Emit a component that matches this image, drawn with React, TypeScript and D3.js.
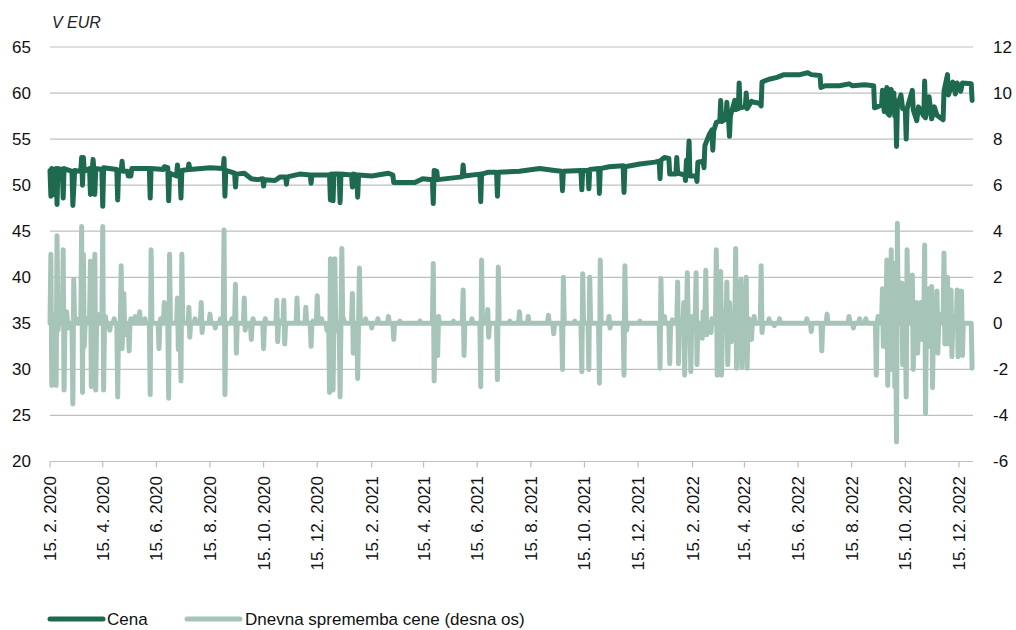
import * as d3 from 'd3';
import React from 'react';

// price (left axis, EUR)
const cena2020: [string, number][] = [
    ['2020-02-15', 51.6], ['2020-02-16', 48.8], ['2020-02-17', 51.8], ['2020-02-18', 51.7], ['2020-02-19', 49.0],
    ['2020-02-20', 51.7], ['2020-02-22', 51.8], ['2020-02-23', 47.9], ['2020-02-24', 51.8], ['2020-02-29', 51.7],
    ['2020-03-01', 48.6], ['2020-03-02', 51.8], ['2020-03-11', 51.5], ['2020-03-12', 47.8], ['2020-03-13', 49.6],
    ['2020-03-14', 51.6], ['2020-03-21', 51.5], ['2020-03-22', 53.0], ['2020-03-23', 50.0], ['2020-03-24', 53.0],
    ['2020-03-25', 51.5], ['2020-03-31', 51.8], ['2020-04-01', 49.0], ['2020-04-02', 51.7], ['2020-04-03', 51.6],
    ['2020-04-04', 52.8], ['2020-04-05', 51.6], ['2020-04-06', 49.0], ['2020-04-07', 51.8], ['2020-04-14', 51.7],
    ['2020-04-15', 47.7], ['2020-04-16', 51.9], ['2020-05-01', 51.7], ['2020-05-02', 48.4], ['2020-05-03', 51.6],
    ['2020-05-06', 51.6], ['2020-05-07', 52.6], ['2020-05-08', 51.5], ['2020-05-13', 51.5], ['2020-05-14', 51.0],
    ['2020-05-17', 51.0], ['2020-05-18', 51.8], ['2020-06-07', 51.8], ['2020-06-08', 48.6], ['2020-06-09', 51.8],
    ['2020-06-23', 51.7], ['2020-06-24', 52.0], ['2020-06-28', 51.9], ['2020-06-29', 48.3], ['2020-06-30', 51.3],
    ['2020-07-08', 51.0], ['2020-07-09', 52.2], ['2020-07-10', 51.0], ['2020-07-12', 51.1], ['2020-07-13', 48.6],
    ['2020-07-14', 51.6], ['2020-07-21', 51.7], ['2020-07-22', 52.3], ['2020-07-23', 51.7], ['2020-08-15', 51.9],
    ['2020-08-30', 51.8], ['2020-08-31', 52.9], ['2020-09-01', 48.8], ['2020-09-02', 51.6], ['2020-09-12', 51.3],
    ['2020-09-13', 49.8], ['2020-09-14', 51.2], ['2020-09-23', 51.3], ['2020-10-01', 50.7], ['2020-10-08', 50.6],
    ['2020-10-14', 50.7], ['2020-10-15', 49.9], ['2020-10-16', 50.6], ['2020-10-28', 50.5], ['2020-11-03', 50.9],
    ['2020-11-09', 50.9], ['2020-11-10', 50.1], ['2020-11-11', 50.9], ['2020-11-25', 51.2], ['2020-12-07', 51.1],
    ['2020-12-08', 50.2], ['2020-12-09', 51.1], ['2020-12-29', 51.1], ['2020-12-30', 48.4], ['2020-12-31', 51.2],
];
const cena2021: [string, number][] = [
    ['2021-01-01', 51.2], ['2021-01-02', 48.3], ['2021-01-03', 51.2], ['2021-01-09', 51.2], ['2021-01-10', 48.1],
    ['2021-01-11', 51.2], ['2021-01-23', 51.1], ['2021-01-24', 49.8], ['2021-01-25', 51.2], ['2021-01-29', 51.1],
    ['2021-01-30', 48.7], ['2021-01-31', 51.1], ['2021-02-15', 51.0], ['2021-03-06', 51.3], ['2021-03-11', 51.1],
    ['2021-03-12', 50.3], ['2021-04-05', 50.3], ['2021-04-14', 50.7], ['2021-04-25', 50.6], ['2021-04-26', 48.0],
    ['2021-04-27', 51.6], ['2021-04-30', 51.5], ['2021-05-01', 50.6], ['2021-05-29', 50.9], ['2021-05-30', 52.2],
    ['2021-05-31', 51.0], ['2021-06-18', 51.2], ['2021-06-19', 48.2], ['2021-06-20', 51.2], ['2021-06-27', 51.4],
    ['2021-07-07', 51.4], ['2021-07-08', 48.8], ['2021-07-09', 51.4], ['2021-08-02', 51.5], ['2021-08-25', 51.8],
    ['2021-09-11', 51.6], ['2021-09-19', 51.5], ['2021-09-20', 49.4], ['2021-09-21', 51.5], ['2021-10-11', 51.6],
    ['2021-10-12', 49.5], ['2021-10-13', 51.6], ['2021-10-19', 51.6], ['2021-10-20', 49.6], ['2021-10-21', 51.7],
    ['2021-10-31', 51.8], ['2021-11-01', 49.1], ['2021-11-02', 51.8], ['2021-11-12', 52.0], ['2021-11-28', 52.1],
    ['2021-11-29', 49.2], ['2021-11-30', 52.0], ['2021-12-17', 52.3],
];
const cena2022: [string, number][] = [
    ['2022-01-03', 52.5], ['2022-01-08', 52.6], ['2022-01-09', 50.7], ['2022-01-10', 52.7], ['2022-01-14', 53.0],
    ['2022-01-19', 52.9], ['2022-01-20', 51.2], ['2022-01-27', 51.2], ['2022-01-28', 53.0], ['2022-01-29', 51.3],
    ['2022-02-06', 51.1], ['2022-02-07', 50.5], ['2022-02-08', 52.7], ['2022-02-10', 52.7], ['2022-02-11', 54.8],
    ['2022-02-12', 51.0], ['2022-02-19', 51.0], ['2022-02-20', 50.4], ['2022-02-21', 52.5], ['2022-02-27', 52.6],
    ['2022-02-28', 51.9], ['2022-03-01', 54.3], ['2022-03-06', 55.5], ['2022-03-09', 56.0], ['2022-03-10', 53.8],
    ['2022-03-11', 55.9], ['2022-03-14', 56.8], ['2022-03-18', 57.0], ['2022-03-19', 59.2], ['2022-03-20', 56.9],
    ['2022-03-25', 57.2], ['2022-03-26', 59.0], ['2022-03-27', 57.0], ['2022-03-28', 57.0], ['2022-03-29', 55.3],
    ['2022-03-30', 57.5], ['2022-04-04', 59.2], ['2022-04-05', 58.2], ['2022-04-08', 58.3], ['2022-04-09', 61.1],
    ['2022-04-10', 58.4], ['2022-04-16', 58.5], ['2022-04-17', 60.0], ['2022-04-18', 58.3], ['2022-04-23', 59.1],
    ['2022-04-26', 59.0], ['2022-05-02', 58.9], ['2022-05-04', 58.6], ['2022-05-05', 61.2], ['2022-05-13', 61.5],
    ['2022-05-22', 61.7], ['2022-05-30', 62.0], ['2022-06-17', 62.0], ['2022-06-26', 62.2], ['2022-06-30', 62.0],
    ['2022-07-10', 61.9], ['2022-07-11', 60.6], ['2022-07-16', 60.8], ['2022-08-01', 60.8], ['2022-08-12', 61.0],
    ['2022-08-16', 60.8], ['2022-08-30', 60.9], ['2022-09-09', 60.8], ['2022-09-10', 58.4], ['2022-09-13', 58.5],
    ['2022-09-18', 58.7], ['2022-09-19', 60.3], ['2022-09-21', 58.0], ['2022-09-24', 60.6], ['2022-09-25', 57.8],
    ['2022-09-27', 57.6], ['2022-09-29', 60.4], ['2022-09-30', 58.0], ['2022-10-02', 60.0], ['2022-10-03', 57.5],
    ['2022-10-04', 59.2], ['2022-10-05', 54.2], ['2022-10-06', 58.6], ['2022-10-10', 59.8], ['2022-10-12', 58.3],
    ['2022-10-15', 58.2], ['2022-10-16', 55.0], ['2022-10-17', 58.3], ['2022-10-23', 60.3], ['2022-10-24', 58.2],
    ['2022-10-28', 57.0], ['2022-10-30', 58.5], ['2022-11-05', 57.5], ['2022-11-06', 61.3], ['2022-11-07', 57.3],
    ['2022-11-11', 59.6], ['2022-11-14', 57.2], ['2022-11-17', 58.5], ['2022-11-20', 57.6], ['2022-11-27', 57.1],
    ['2022-11-28', 60.2], ['2022-12-02', 62.0], ['2022-12-03', 59.8], ['2022-12-08', 61.2], ['2022-12-11', 59.9],
    ['2022-12-13', 61.1], ['2022-12-17', 60.2], ['2022-12-19', 61.1], ['2022-12-29', 61.0], ['2022-12-30', 59.2],
];

// daily price change (right axis): [first day, values on consecutive days]; unlisted days had no change
const sprememba2020: [string, ...number[]][] = [
    ['2020-02-16', 3.0, -2.7], ['2020-02-19', 0.4], ['2020-02-22', -2.7, 3.8, -0.3], ['2020-02-26', 0.3],
    ['2020-03-01', 3.2, -2.9], ['2020-03-05', 0.5], ['2020-03-07', -0.2], ['2020-03-12', -3.5, 1.9],
    ['2020-03-16', 0.2], ['2020-03-22', 4.2, -3.0, 3.0, -1.0], ['2020-03-29', 0.2], ['2020-04-01', 2.7, -2.75],
    ['2020-04-05', 0.2, 3.0, -2.9], ['2020-04-09', 0.4], ['2020-04-15', 4.2, -2.9], ['2020-04-18', 0.3],
    ['2020-04-23', -0.3], ['2020-04-28', 0.2], ['2020-05-02', -3.2], ['2020-05-06', 2.5, -1.1],
    ['2020-05-09', 1.3, -0.5], ['2020-05-15', -1.2], ['2020-05-17', 0.2], ['2020-05-22', 0.3], ['2020-05-27', 0.5],
    ['2020-06-02', 0.2], ['2020-06-08', -3.1, 3.2], ['2020-06-18', -1.1], ['2020-06-20', 0.2], ['2020-06-24', 0.9],
    ['2020-06-29', -3.25, 3.0], ['2020-07-09', 1.1, -1.15], ['2020-07-13', -2.5, 3.0], ['2020-07-22', 0.7, -0.6],
    ['2020-07-29', 0.2], ['2020-08-05', 0.9, -0.4], ['2020-08-15', 0.4], ['2020-08-21', -0.2], ['2020-08-27', 0.2],
    ['2020-08-31', 4.05, -3.1], ['2020-09-09', 0.2], ['2020-09-13', 1.7, -1.3], ['2020-09-23', 1.1, -0.3],
    ['2020-10-01', -0.7], ['2020-10-03', 0.2], ['2020-10-15', -1.1], ['2020-10-17', 0.2], ['2020-10-30', 1.0, -0.8],
    ['2020-11-02', 0.1], ['2020-11-07', 1.0, -0.9], ['2020-11-22', 1.1], ['2020-12-02', 0.7], ['2020-12-08', -1.0],
    ['2020-12-10', 0.1], ['2020-12-15', 1.2], ['2020-12-20', 0.2], ['2020-12-26', -0.3], ['2020-12-29', -3.0, 2.8],
];
const sprememba2021: [string, ...number[]][] = [
    ['2021-01-02', -2.9], ['2021-01-04', 2.8], ['2021-01-06', -0.3], ['2021-01-10', -3.2], ['2021-01-12', 3.25],
    ['2021-01-14', 0.2], ['2021-01-24', 1.3, -1.3], ['2021-01-30', -2.4], ['2021-02-01', 2.4], ['2021-02-08', 0.2],
    ['2021-02-15', -0.2], ['2021-02-22', 0.2], ['2021-03-06', 0.3], ['2021-03-12', -0.7], ['2021-03-19', 0.1],
    ['2021-04-11', 0.1], ['2021-04-26', 2.6, -2.5], ['2021-04-29', 0.2], ['2021-05-01', -1.4, 0.3],
    ['2021-05-19', 0.1], ['2021-05-30', 1.45, -1.4], ['2021-06-09', 0.2], ['2021-06-19', -2.75, 2.75],
    ['2021-06-27', 0.6, -0.6], ['2021-07-08', -2.45, 2.45], ['2021-07-22', 0.1], ['2021-08-02', 0.5],
    ['2021-08-12', 0.3], ['2021-09-04', 0.35], ['2021-09-10', -0.45], ['2021-09-20', -2.0, 2.0],
    ['2021-10-04', 0.1], ['2021-10-12', -2.1, 2.15], ['2021-10-20', -2.0, 2.0], ['2021-11-01', -2.6, 2.75],
    ['2021-11-12', 0.3, -0.2], ['2021-11-29', -2.25, 2.5], ['2021-12-02', -0.3], ['2021-12-17', 0.1],
];
const sprememba2022: [string, ...number[]][] = [
    ['2022-01-09', -1.95, 1.95], ['2022-01-14', 0.3], ['2022-01-20', -1.75], ['2022-01-23', 0.15],
    ['2022-01-29', 1.8, -1.75], ['2022-02-05', 0.9, -2.25], ['2022-02-09', 2.2], ['2022-02-13', -2.1],
    ['2022-02-15', 0.3], ['2022-02-19', 2.2, -1.8], ['2022-02-26', -0.65, 0.5], ['2022-03-02', 2.3, -0.5],
    ['2022-03-08', -0.4, 0.2], ['2022-03-14', 3.2, -2.25], ['2022-03-17', 0.2], ['2022-03-19', 2.25, -2.25],
    ['2022-03-23', 0.5], ['2022-03-26', 1.8, -1.8], ['2022-03-29', 0.9], ['2022-03-31', -0.8], ['2022-04-02', 0.3],
    ['2022-04-05', 3.25, -1.95], ['2022-04-09', 0.4], ['2022-04-11', 1.9, -1.9], ['2022-04-17', 2.0, -1.95],
    ['2022-04-20', 0.2], ['2022-04-23', -0.7], ['2022-04-26', 0.3], ['2022-05-04', 2.5, -0.4], ['2022-05-13', 0.2],
    ['2022-05-19', -0.1], ['2022-05-25', 0.2], ['2022-06-25', 0.2], ['2022-06-30', -0.35], ['2022-07-12', -1.2],
    ['2022-07-18', 0.4], ['2022-08-12', 0.3], ['2022-08-17', -0.2], ['2022-08-24', 0.2], ['2022-08-31', 0.2],
    ['2022-09-12', -2.25], ['2022-09-14', 0.3], ['2022-09-19', 1.5, -1.0], ['2022-09-22', 0.5],
    ['2022-09-24', 2.75, -2.7], ['2022-09-27', 0.8], ['2022-09-29', 3.2, -2.0], ['2022-10-02', 2.6, -2.75],
    ['2022-10-05', -5.15, 4.35], ['2022-10-09', 0.5], ['2022-10-11', 1.75, -1.8], ['2022-10-14', 0.6],
    ['2022-10-16', -3.2, 3.2], ['2022-10-19', 0.3], ['2022-10-23', 2.1, -2.0], ['2022-10-26', 0.5],
    ['2022-10-28', 0.9, -1.3], ['2022-11-02', 0.9, -0.7], ['2022-11-06', 3.4, -3.9], ['2022-11-09', 0.5],
    ['2022-11-11', 1.5, -1.0], ['2022-11-14', 1.6, -2.8], ['2022-11-18', 0.3], ['2022-11-20', 1.4, -1.3],
    ['2022-11-25', 0.4], ['2022-11-28', 3.05, -0.9], ['2022-12-02', 2.0, -0.9], ['2022-12-06', 1.45, -1.45],
    ['2022-12-10', 0.3], ['2022-12-13', 1.45, -1.45], ['2022-12-18', 1.4, -1.4], ['2022-12-30', -1.95],
];

const xTicks = [
    '2020-02-15', '2020-04-15', '2020-06-15', '2020-08-15', '2020-10-15', '2020-12-15',
    '2021-02-15', '2021-04-15', '2021-06-15', '2021-08-15', '2021-10-15', '2021-12-15',
    '2022-02-15', '2022-04-15', '2022-06-15', '2022-08-15', '2022-10-15', '2022-12-15',
];
const leftTicks = [20, 25, 30, 35, 40, 45, 50, 55, 60, 65];
const rightTicks = [-6, -4, -2, 0, 2, 4, 6, 8, 10, 12];

const DARK = '#1e6a4f';
const LIGHT = '#a7c4b8';
const GRID = '#bfbfbf';
const FONT = '"Liberation Sans", Arial, sans-serif';

const parse = d3.timeParse('%Y-%m-%d');
const key = d3.timeFormat('%Y-%m-%d');

const App = () => {
    const left = 50;
    const right = 973;
    const top = 47;
    const bottom = 461.5;

    const x = d3.scaleTime()
        .domain([parse('2020-02-15') as Date, parse('2022-12-31') as Date])
        .range([left, right]);
    const yL = d3.scaleLinear().domain([20, 65]).range([bottom, top]);
    const yR = d3.scaleLinear().domain([-6, 12]).range([bottom, top]);

    const cena = [...cena2020, ...cena2021, ...cena2022];

    // daily series for the change: listed days carry their value, other days 0
    const changes = new Map<string, number>();
    [...sprememba2020, ...sprememba2021, ...sprememba2022].forEach(([start, ...vals]) => {
        const d0 = parse(start) as Date;
        vals.forEach((v, i) => changes.set(key(d3.timeDay.offset(d0, i)), v));
    });
    const days = d3.timeDay.range(parse('2020-02-15') as Date, parse('2022-12-31') as Date);
    const sprememba: [string, number][] = days.map(d => [key(d), changes.get(key(d)) ?? 0]);

    const lineL = d3.line<[string, number]>()
        .x(d => x(parse(d[0]) as Date))
        .y(d => yL(d[1]));
    const lineR = d3.line<[string, number]>()
        .x(d => x(parse(d[0]) as Date))
        .y(d => yR(d[1]));

    const fmt = (s: string) => {
        const d = parse(s) as Date;
        return `15. ${d.getMonth() + 1}. ${d.getFullYear()}`;
    };

    return (
        <svg width={1016} height={630} style={{ position: 'absolute', left: 0, top: 0 }} fontFamily={FONT}>
            <rect width={1016} height={630} fill="#fff" />
            <text x={52} y={28} fontSize={16} fontStyle="italic" fill="#222">V EUR</text>

            {leftTicks.map(t => (
                <g key={'g' + t}>
                    <line x1={left} x2={right} y1={yL(t)} y2={yL(t)} stroke={GRID} strokeWidth={1.2} />
                    <text x={31} y={yL(t)} dy="0.35em" textAnchor="end" fontSize={17} fill="#111">{t}</text>
                </g>
            ))}
            {rightTicks.map(t => (
                <text key={'r' + t} x={993} y={yR(t)} dy="0.35em" fontSize={17} fill="#111">{t}</text>
            ))}

            {xTicks.map(t => {
                const px = x(parse(t) as Date);
                return (
                    <g key={t}>
                        <line x1={px} x2={px} y1={bottom} y2={bottom + 6} stroke={GRID} strokeWidth={1.2} />
                        <text transform={`translate(${px},476) rotate(-90)`} dy="0.35em" textAnchor="end"
                            fontSize={17} fill="#111">{fmt(t)}</text>
                    </g>
                );
            })}

            <path d={lineR(sprememba) || ''} fill="none" stroke={LIGHT} strokeWidth={5}
                strokeLinejoin="round" strokeLinecap="round" />
            <path d={lineL(cena) || ''} fill="none" stroke={DARK} strokeWidth={5}
                strokeLinejoin="round" strokeLinecap="round" />

            <line x1={50} x2={103} y1={619} y2={619} stroke={DARK} strokeWidth={5} strokeLinecap="round" />
            <text x={107} y={625} fontSize={17} fill="#111">Cena</text>
            <line x1={187} x2={240} y1={619} y2={619} stroke={LIGHT} strokeWidth={5} strokeLinecap="round" />
            <text x={245} y={625} fontSize={17} fill="#111">Dnevna sprememba cene (desna os)</text>
        </svg>
    );
};

export default App;
